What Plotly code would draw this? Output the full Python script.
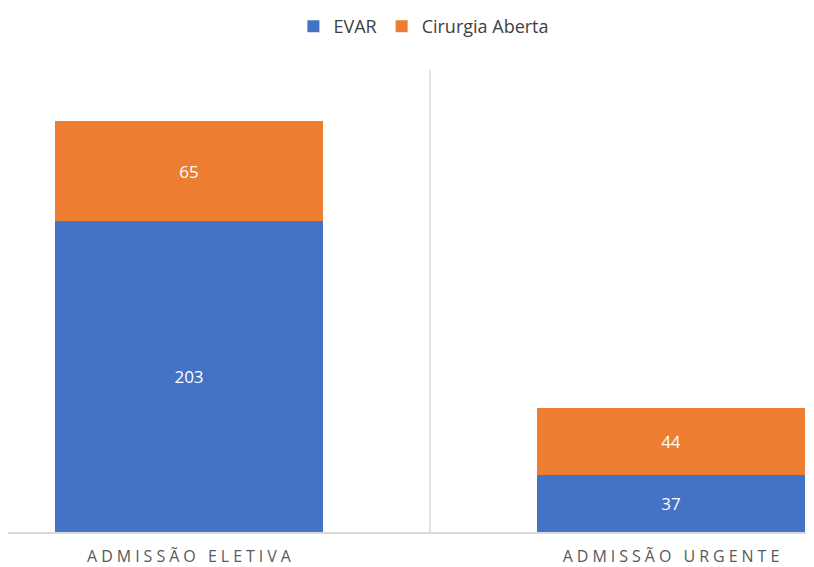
import plotly.graph_objects as go

categories = ["ADMISSÃO ELETIVA", "ADMISSÃO URGENTE"]
evar = [203, 37]
cirurgia_aberta = [65, 44]

SP = "\u2005"


def spaced(label):
    return SP.join(label)


fig = go.Figure()
fig.add_trace(go.Bar(
    x=[0, 1], y=evar, name="EVAR",
    marker=dict(color="#4472C4", line=dict(width=0)),
    text=evar, textposition="inside", insidetextanchor="middle",
    textfont=dict(color="white", size=17, family="Open Sans"),
    width=0.556,
))
fig.add_trace(go.Bar(
    x=[0, 1], y=cirurgia_aberta, name="Cirurgia Aberta",
    marker=dict(color="#ED7D31", line=dict(width=0)),
    text=cirurgia_aberta, textposition="inside", insidetextanchor="middle",
    textfont=dict(color="white", size=17, family="Open Sans"),
    width=0.556,
))

# separator between categories
fig.add_shape(type="line", x0=0.5, x1=0.5, y0=0, y1=1, yref="paper",
              line=dict(color="#d9d9d9", width=1.5), layer="below")

fig.update_layout(
    barmode="stack",
    width=806, height=559,
    margin=dict(l=0, r=0, t=62, b=35),
    plot_bgcolor="white", paper_bgcolor="white",
    font=dict(family="Open Sans", color="#404040"),
    showlegend=True,
    legend=dict(orientation="h", x=0.516, xanchor="center", y=1, yref="container",
                yanchor="top", font=dict(size=18, color="#404040"),
                itemwidth=30, traceorder="normal"),
    xaxis=dict(
        range=[-0.3755, 1.2967],
        tickvals=[0, 1], ticktext=[spaced(c) for c in categories],
        tickfont=dict(size=16, color="#595959"),
        ticklabelstandoff=9,
        showline=True, linecolor="#d9d9d9", linewidth=1.5,
        showgrid=False, ticks="", ticklen=0,
    ),
    yaxis=dict(range=[0, 301.4], visible=False, showgrid=False),
)

fig.write_html("out.html")
